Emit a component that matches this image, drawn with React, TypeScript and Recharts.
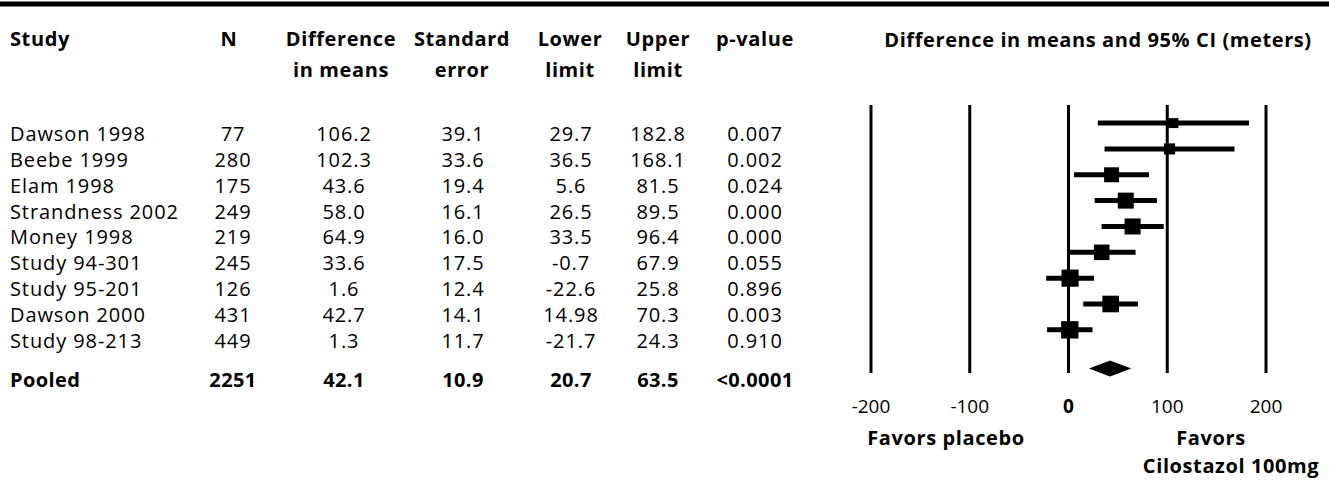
import React from 'react';
import { ComposedChart, Scatter, ErrorBar, XAxis, YAxis, CartesianGrid } from 'recharts';

// study rows
const studies = ['Dawson 1998', 'Beebe 1999', 'Elam 1998', 'Strandness 2002', 'Money 1998', 'Study 94-301', 'Study 95-201', 'Dawson 2000', 'Study 98-213'];
const sampleSize = [77, 280, 175, 249, 219, 245, 126, 431, 449];
const diffMeans = [106.2, 102.3, 43.6, 58.0, 64.9, 33.6, 1.6, 42.7, 1.3];
const stdErr = [39.1, 33.6, 19.4, 16.1, 16.0, 17.5, 12.4, 14.1, 11.7];
const lowerLimit = [29.7, 36.5, 5.6, 26.5, 33.5, -0.7, -22.6, 14.98, -21.7];
const upperLimit = [182.8, 168.1, 81.5, 89.5, 96.4, 67.9, 25.8, 70.3, 24.3];
const pValues = [0.007, 0.002, 0.024, 0.0, 0.0, 0.055, 0.896, 0.003, 0.91];

// pooled estimate
const pooledLabel = 'Pooled';
const pooledN = 2251;
const pooledDiff = 42.1;
const pooledSE = 10.9;
const pooledLower = 20.7;
const pooledUpper = 63.5;
const pooledP = '<0.0001';

const xTicks = [-200, -100, 0, 100, 200];

// between-study variance used for the square sizes (random effects weights)
const TAU2 = 554;

const W = 1329;
const H = 497;
const PLOT_L = 871;
const PLOT_R = 1266;
const PLOT_T = 105;
const PLOT_B = 373;
const X_DOMAIN: [number, number] = [-200, 200];
const Y_DOMAIN: [number, number] = [-0.7, 9.67];
const PX_PER_UNIT = (PLOT_R - PLOT_L) / (X_DOMAIN[1] - X_DOMAIN[0]);

const FONT = '"Open Sans", sans-serif';
const COL = { study: 10, n: 233, diff: 344, se: 463, lower: 571, upper: 658, p: 755 };

const studyRows = studies.map((name, i) => ({
  name,
  n: String(sampleSize[i]),
  diff: diffMeans[i].toFixed(1),
  se: stdErr[i].toFixed(1),
  lower: String(lowerLimit[i]),
  upper: String(upperLimit[i]),
  p: pValues[i].toFixed(3),
  bold: false,
  x: diffMeans[i],
  row: i,
  err: [diffMeans[i] - lowerLimit[i], upperLimit[i] - diffMeans[i]],
  side: 456 / Math.sqrt(stdErr[i] * stdErr[i] + TAU2),
}));

const pooledRow = {
  name: pooledLabel,
  n: String(pooledN),
  diff: pooledDiff.toFixed(1),
  se: pooledSE.toFixed(1),
  lower: String(pooledLower),
  upper: String(pooledUpper),
  p: pooledP,
  bold: true,
  x: pooledDiff,
  row: studies.length + 0.5,
  lo: pooledLower,
  hi: pooledUpper,
};

const tableRows = [...studyRows, pooledRow];

const TableRow = (props: any) => {
  const { cy, payload } = props;
  const y = cy + 18;
  const bold = payload.bold;
  return (
    <g fontFamily={FONT} fontSize={20} fontWeight={bold ? 700 : 400} letterSpacing={bold ? 0.4 : 0.9} fill="#000">
      <text x={COL.study} y={y}>{payload.name}</text>
      <text x={COL.n} y={y} textAnchor="middle">{payload.n}</text>
      <text x={COL.diff} y={y} textAnchor="middle">{payload.diff}</text>
      <text x={COL.se} y={y} textAnchor="middle">{payload.se}</text>
      <text x={COL.lower} y={y} textAnchor="middle">{payload.lower}</text>
      <text x={COL.upper} y={y} textAnchor="middle">{payload.upper}</text>
      <text x={COL.p} y={y} textAnchor="middle">{payload.p}</text>
    </g>
  );
};

const Square = (props: any) => {
  const { cx, cy, payload } = props;
  const s = payload.side;
  return <rect x={cx - s / 2} y={cy - s / 2} width={s} height={s} fill="#000" />;
};

const Diamond = (props: any) => {
  const { cx, cy, payload } = props;
  const l = cx - (payload.x - payload.lo) * PX_PER_UNIT;
  const r = cx + (payload.hi - payload.x) * PX_PER_UNIT;
  const h = 8;
  return <polygon points={`${l},${cy} ${cx},${cy - h} ${r},${cy} ${cx},${cy + h}`} fill="#000" />;
};

const XTick = (props: any) => {
  const { x, y, payload } = props;
  return (
    <text x={x} y={y} dy={40} textAnchor="middle" fontFamily={FONT} fontSize={19}
      fontWeight={payload.value === 0 ? 700 : 400} fill="#000">
      {payload.value}
    </text>
  );
};

const headStyle = { fontFamily: FONT, fontSize: 20, fontWeight: 700, letterSpacing: 0.6 } as const;

export default function App() {
  return (
    <div style={{ position: 'absolute', left: 0, top: 0, width: W, height: H, background: '#fff' }}>
      <ComposedChart
        width={W}
        height={H}
        margin={{ top: PLOT_T, right: W - PLOT_R, bottom: H - PLOT_B - 40, left: PLOT_L }}
      >
        <CartesianGrid horizontal={false} stroke="#000" strokeWidth={3} />
        <XAxis
          type="number"
          dataKey="x"
          domain={X_DOMAIN}
          ticks={xTicks}
          interval={0}
          axisLine={false}
          tickLine={false}
          tickSize={0}
          tickMargin={0}
          height={40}
          tick={<XTick />}
        />
        <YAxis type="number" dataKey="row" domain={Y_DOMAIN} reversed hide />
        <Scatter data={tableRows} shape={<TableRow />} isAnimationActive={false} />
        <Scatter data={studyRows} shape={<Square />} isAnimationActive={false}>
          <ErrorBar dataKey="err" direction="x" width={0} stroke="#000" strokeWidth={5} />
        </Scatter>
        <Scatter data={[pooledRow]} shape={<Diamond />} isAnimationActive={false} />
      </ComposedChart>
      <svg width={W} height={H} style={{ position: 'absolute', left: 0, top: 0, pointerEvents: 'none' }}>
        <rect x={0} y={1.5} width={W} height={5} fill="#000" />
        <g {...headStyle} fill="#000">
          <text x={COL.study} y={46}>Study</text>
          <text x={229} y={46} textAnchor="middle">N</text>
          <text x={341} y={46} textAnchor="middle">Difference</text>
          <text x={341} y={77} textAnchor="middle">in means</text>
          <text x={462} y={46} textAnchor="middle">Standard</text>
          <text x={462} y={77} textAnchor="middle">error</text>
          <text x={570} y={46} textAnchor="middle">Lower</text>
          <text x={570} y={77} textAnchor="middle">limit</text>
          <text x={658} y={46} textAnchor="middle">Upper</text>
          <text x={658} y={77} textAnchor="middle">limit</text>
          <text x={755} y={46} textAnchor="middle">p-value</text>
          <text x={1098} y={47} textAnchor="middle">Difference in means and 95% CI (meters)</text>
          <text x={946} y={445} textAnchor="middle">Favors placebo</text>
          <text x={1211} y={445} textAnchor="middle">Favors</text>
          <text x={1231} y={473} textAnchor="middle">Cilostazol 100mg</text>
        </g>
      </svg>
    </div>
  );
}
